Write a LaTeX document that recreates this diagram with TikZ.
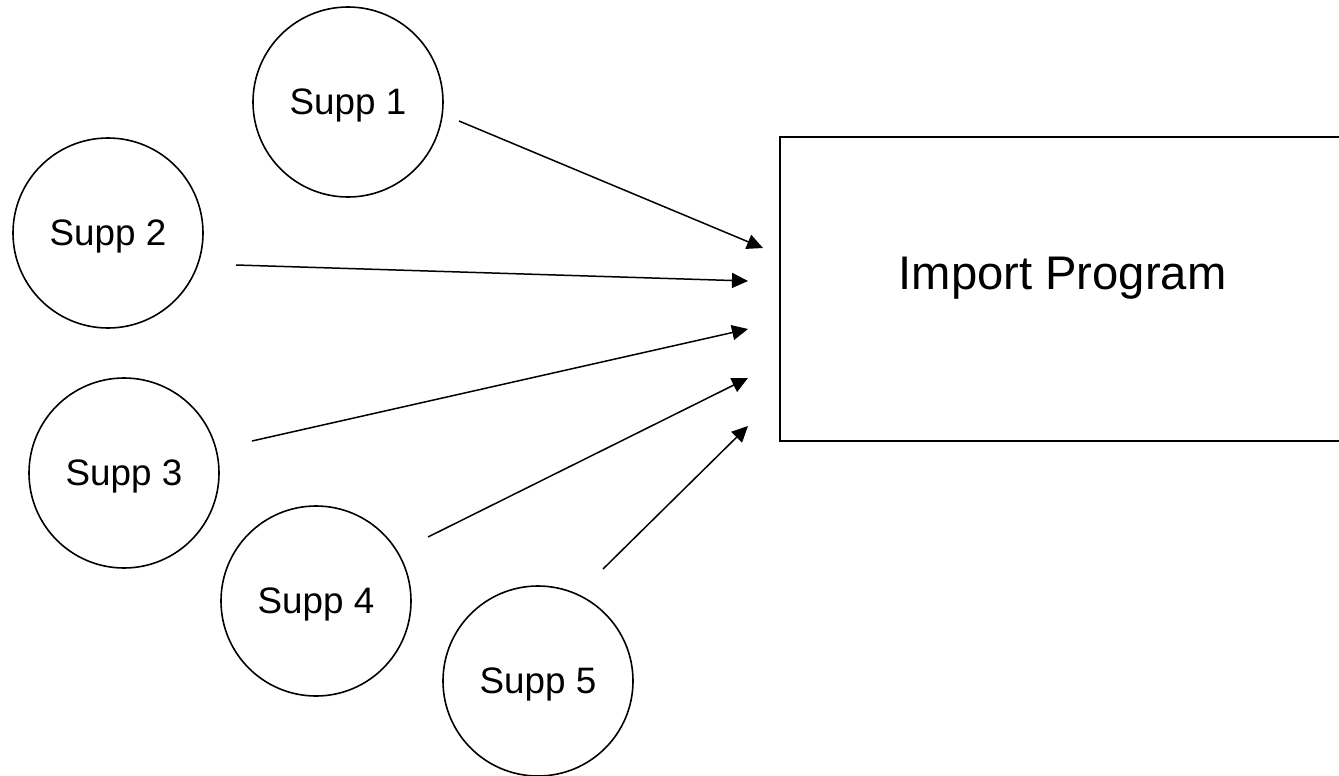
\documentclass[tikz,border=0pt]{standalone}
\usepackage{fontspec}
\setmainfont{Liberation Sans}
\usepackage{tikz}
\usepackage{xcolor}
\usetikzlibrary{arrows.meta,positioning}
\definecolor{ink}{HTML}{000000}
\tikzset{
  supp/.style={draw=ink,circle,line width=0.8pt,minimum size=95pt,inner sep=0pt,
               font=\fontsize{18.4}{22}\selectfont,text depth=0pt},
  feed/.style={draw=ink,line width=0.75pt,-{Triangle[length=8pt,width=7.5pt]}}
}

\begin{document}
\begin{tikzpicture}[x=0.5pt,y=-0.5pt]
      \useasboundingbox (0,0) rectangle (1339,776);
      \node[supp] (s1) at (348,102) {Supp 1};
      \node[supp] (s2) at (108,233) {Supp 2};
      \node[supp] (s3) at (124,473) {Supp 3};
      \node[supp] (s4) at (316,601) {Supp 4};
      \node[supp] (s5) at (538,681) {Supp 5};
      \node[draw=ink,line width=0.8pt,
            minimum width=282.5pt,minimum height=152pt,inner sep=0pt,
            label={[font=\fontsize{23.6}{28}\selectfont,text depth=0pt,yshift=8pt]center:Import Program}]
        (prog) at (1062.5,289) {};
      % loose ends of the feeds
      \coordinate (s1out) at (459,121);  \coordinate (in1) at (763,248);
      \coordinate (s2out) at (236,265);  \coordinate (in2) at (748,281);
      \coordinate (s3out) at (252,441);  \coordinate (in3) at (748,329);
      \coordinate (s4out) at (428,537);  \coordinate (in4) at (748,378);
      \coordinate (s5out) at (603,569);  \coordinate (in5) at (748,426);
      \foreach \i in {1,...,5}
        \draw[feed] (s\i out) -- (in\i);
    \end{tikzpicture}
\end{document}
